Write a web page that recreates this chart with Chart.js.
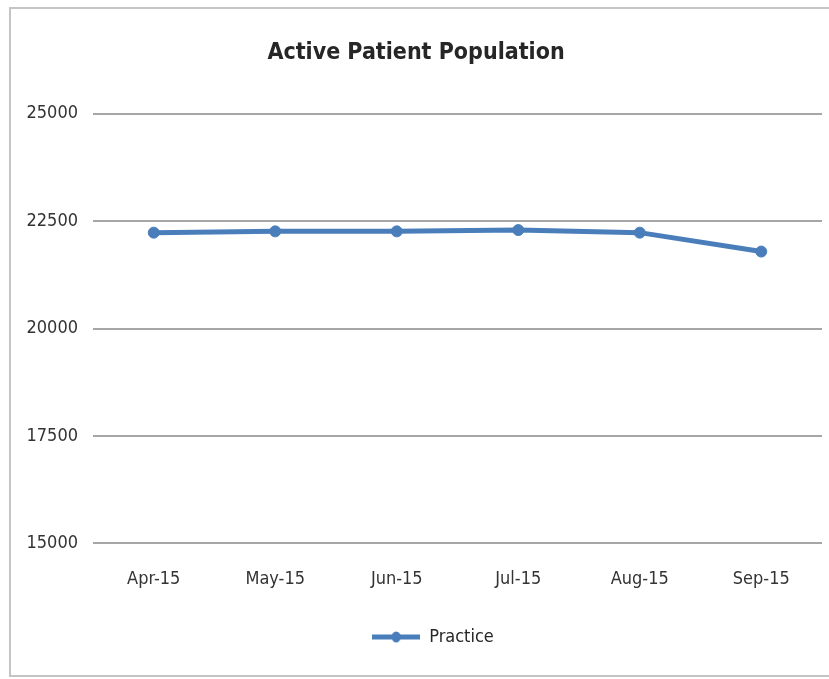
<!DOCTYPE html>
<html>
<head>
<meta charset="utf-8">
<script src="https://cdn.jsdelivr.net/npm/chart.js@4/dist/chart.umd.min.js"></script>
<style>
  html, body { margin: 0; padding: 0; background: #fff; width: 829px; height: 679px; overflow: hidden; }
  #frame { position: absolute; left: 9px; top: 7px; width: 840px; height: 670px; border: 2px solid #c4c4c4; box-sizing: border-box; }
  #wrap { position: absolute; left: 0; top: 0; width: 829px; height: 679px; }
</style>
</head>
<body>
<div id="frame"></div>
<div id="wrap"><canvas id="c" width="829" height="679"></canvas></div>
<script>
const categories = ["Apr-15", "May-15", "Jun-15", "Jul-15", "Aug-15", "Sep-15"];
const practiceValues = [22230, 22260, 22260, 22290, 22230, 21790];
const seriesName = "Practice";
const chartTitle = "Active Patient Population";
const yMin = 15000, yMax = 25000, yStep = 2500;

const FONT = "'Liberation Sans Narrow', 'Arial Narrow', 'DejaVu Sans Condensed', 'Liberation Sans', sans-serif";
const BLUE = "#4a7ebb";

// legend symbol: line with a round marker
const sym = document.createElement("canvas");
sym.width = 48; sym.height = 12;
(function () {
  const g = sym.getContext("2d");
  g.strokeStyle = BLUE; g.lineWidth = 5; g.lineCap = "butt";
  g.beginPath(); g.moveTo(0, 6); g.lineTo(48, 6); g.stroke();
  g.fillStyle = BLUE;
  g.beginPath(); g.ellipse(24, 6, 4.5, 5.5, 0, 0, Math.PI * 2); g.fill();
})();

const legendShift = {
  id: "legendShift",
  afterLayout(chart) {
    if (chart.legend) { chart.legend.left += 17; chart.legend.right += 17; }
  }
};

new Chart(document.getElementById("c"), {
  type: "line",
  data: {
    labels: categories,
    datasets: [{
      label: seriesName,
      data: practiceValues,
      borderColor: BLUE,
      backgroundColor: BLUE,
      borderWidth: 5,
      pointRadius: 5.5,
      pointHoverRadius: 5.5,
      pointBackgroundColor: BLUE,
      pointBorderColor: BLUE,
      pointBorderWidth: 1,
      tension: 0,
      fill: false
    }]
  },
  plugins: [legendShift],
  options: {
    responsive: false,
    animation: false,
    events: [],
    layout: { padding: { left: 10, right: 7, top: 0, bottom: 23 } },
    plugins: {
      title: {
        display: true,
        text: chartTitle,
        color: "#262626",
        font: { family: FONT, size: 23, weight: "bold" },
        padding: { top: 39, bottom: 47 }
      },
      legend: {
        display: true,
        position: "bottom",
        labels: {
          color: "#262626",
          font: { family: FONT, size: 18 },
          usePointStyle: true,
          pointStyleWidth: 48,
          padding: 13,
          generateLabels: (chart) => chart.data.datasets.map((ds, i) => ({
            text: ds.label,
            pointStyle: sym,
            fillStyle: BLUE,
            strokeStyle: BLUE,
            lineWidth: 0,
            hidden: false,
            datasetIndex: i,
            fontColor: "#262626"
          }))
        }
      },
      tooltip: { enabled: false }
    },
    scales: {
      x: {
        offset: true,
        grid: { display: false, drawTicks: false },
        border: { display: false },
        ticks: { color: "#333", font: { family: FONT, size: 18 }, padding: 25, maxRotation: 0 }
      },
      y: {
        min: yMin, max: yMax,
        afterFit: (s) => { s.width = 83; },
        grid: { color: "#a6a6a6", lineWidth: 2, drawTicks: false },
        border: { display: false },
        ticks: {
          stepSize: yStep, color: "#333", font: { family: FONT, size: 18 }, padding: 15,
          callback: (v) => String(v)
        }
      }
    }
  }
});
</script>
</body>
</html>
